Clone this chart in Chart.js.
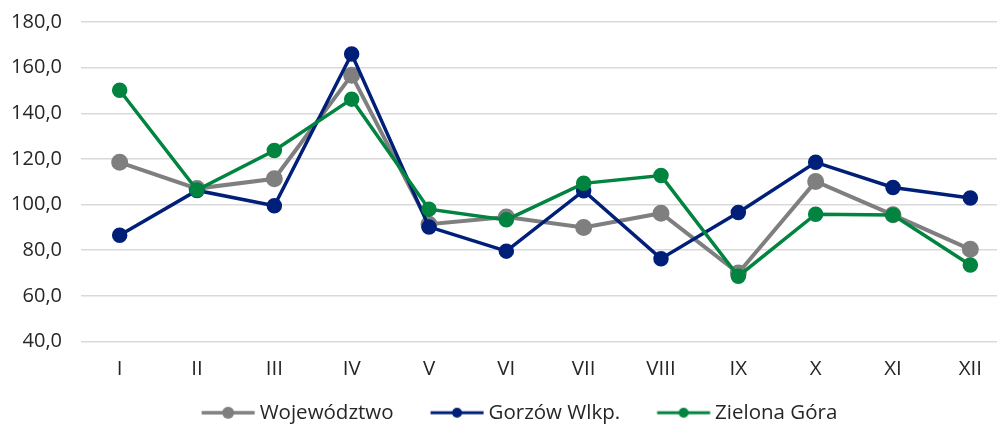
<!DOCTYPE html>
<html>
<head>
<meta charset="utf-8">
<script src="https://cdn.jsdelivr.net/npm/chart.js@4.4.1/dist/chart.umd.min.js"></script>
<style>
html, body { margin: 0; padding: 0; background: #fff; overflow: hidden; }
#wrap { width: 1039px; height: 433px; }
</style>
</head>
<body>
<div id="wrap"><canvas id="chart"></canvas></div>
<script>
var months = ["I", "II", "III", "IV", "V", "VI", "VII", "VIII", "IX", "X", "XI", "XII"];
var wojewodztwo = [118.5, 107.0, 111.3, 156.7, 91.4, 94.6, 90.0, 96.2, 70.0, 110.1, 95.5, 80.4];
var gorzow = [86.6, 106.2, 99.5, 166.0, 90.2, 79.6, 106.1, 76.3, 96.5, 118.5, 107.5, 102.9];
var zielonaGora = [150.1, 106.4, 123.7, 146.2, 98.0, 93.3, 109.3, 112.7, 68.6, 95.8, 95.4, 73.5];
var seriesNames = ["Województwo", "Gorzów Wlkp.", "Zielona Góra"];
var yMin = 40, yMax = 180, yStep = 20;

var grey = "#7f7f7f";
var navy = "#001f78";
var green = "#00843f";
var fontFamily = "'Open Sans', sans-serif";

// legend geometry: line 53px long, 5px before the text, 37px after the previous text
var legendFont = 20.5;
var legendPad = 22;
var lineLen = 53;
var boxW = 37 - legendPad - (legendFont / 2 - 5) + lineLen;
var iconW = Math.ceil(boxW + legendFont);

// line + dot picture for the legend, transparent on the left so the items get their gap
function legendIcon(color, lineW, r) {
    var c = document.createElement("canvas");
    c.width = iconW;
    c.height = 16;
    var ctx = c.getContext("2d");
    var end = iconW / 2 + boxW / 2 + legendFont / 2 - 5;
    ctx.strokeStyle = color;
    ctx.lineWidth = lineW;
    ctx.beginPath();
    ctx.moveTo(end - lineLen, 8);
    ctx.lineTo(end, 8);
    ctx.stroke();
    ctx.fillStyle = color;
    ctx.beginPath();
    ctx.arc(end - lineLen / 2, 8, r, 0, Math.PI * 2);
    ctx.fill();
    return c;
}
var icons = [legendIcon(grey, 3.5, 6), legendIcon(navy, 3, 5), legendIcon(green, 3, 5)];

// legend is centred on the full picture width, not on the plot
var legendShift = {
    id: "legendShift",
    afterLayout: function (chart) {
        var s = 30 / 2 - (boxW + legendFont / 2 - 5 - lineLen) / 2;
        chart.legend.left += s;
        chart.legend.right += s;
    }
};

new Chart(document.getElementById("chart"), {
    type: "line",
    data: {
        labels: months,
        datasets: [{
            label: seriesNames[0],
            data: wojewodztwo,
            borderColor: grey,
            backgroundColor: grey,
            borderWidth: 4,
            pointRadius: 6.5,
            pointHoverRadius: 6.5,
            order: 3
        }, {
            label: seriesNames[1],
            data: gorzow,
            borderColor: navy,
            backgroundColor: navy,
            borderWidth: 3.5,
            pointRadius: 6,
            pointHoverRadius: 6,
            order: 2
        }, {
            label: seriesNames[2],
            data: zielonaGora,
            borderColor: green,
            backgroundColor: green,
            borderWidth: 3.5,
            pointRadius: 6,
            pointHoverRadius: 6,
            order: 1
        }]
    },
    plugins: [legendShift],
    options: {
        responsive: true,
        maintainAspectRatio: false,
        animation: false,
        layout: { padding: { top: 22, right: 30, left: 0, bottom: 0 } },
        scales: {
            x: {
                offset: true,
                afterFit: function (scale) { scale.height = 39; },
                grid: { display: false, drawTicks: false },
                border: { display: false },
                ticks: {
                    color: "#262626",
                    padding: 15,
                    font: { family: fontFamily, size: 20.5, lineHeight: 1.25 }
                }
            },
            y: {
                min: yMin,
                max: yMax,
                afterFit: function (scale) {
                    scale.width = 81;
                    scale.paddingTop = 0;
                    scale.paddingBottom = 0;
                },
                grid: { color: "#d9d9d9", lineWidth: 1.5, drawTicks: false },
                border: { display: false },
                ticks: {
                    stepSize: yStep,
                    color: "#262626",
                    padding: 19,
                    font: { family: fontFamily, size: 20 },
                    callback: function (v) { return v.toFixed(1).replace(".", ","); }
                }
            }
        },
        plugins: {
            tooltip: { enabled: false },
            legend: {
                position: "bottom",
                labels: {
                    usePointStyle: true,
                    pointStyleWidth: boxW,
                    padding: legendPad,
                    color: "#262626",
                    font: { family: fontFamily, size: legendFont },
                    generateLabels: function (chart) {
                        var items = Chart.defaults.plugins.legend.labels.generateLabels(chart);
                        items.sort(function (a, b) { return a.datasetIndex - b.datasetIndex; });
                        items.forEach(function (it) { it.pointStyle = icons[it.datasetIndex]; });
                        return items;
                    }
                }
            }
        }
    }
});
</script>
</body>
</html>
